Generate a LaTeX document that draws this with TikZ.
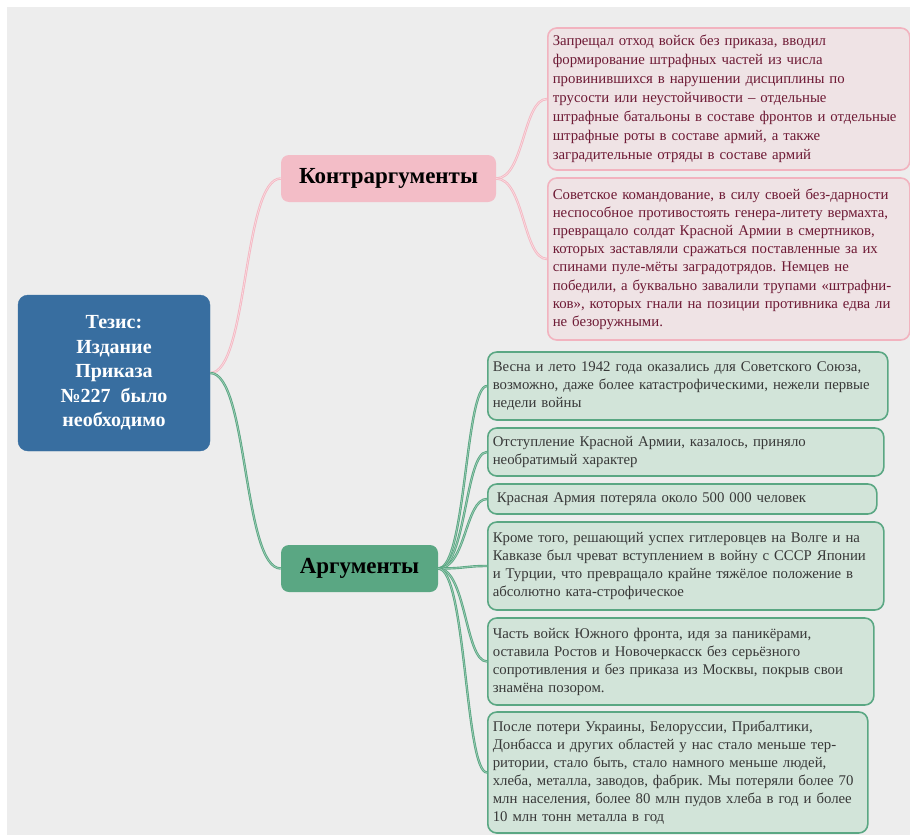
\documentclass[tikz,border=0pt]{standalone}
\usepackage{fontspec}
\setmainfont{Liberation Serif}
\frenchspacing
\definecolor{bgc}{HTML}{EDEDED}
\definecolor{thesisblue}{HTML}{386EA0}
\definecolor{pinkhead}{HTML}{F3BDC7}
\definecolor{pinkline}{HTML}{F4B8C3}
\definecolor{pinkfill}{HTML}{EFE3E5}
\definecolor{pinkborder}{HTML}{F2B3BF}
\definecolor{pinktext}{HTML}{6E1A35}
\definecolor{greenhead}{HTML}{5AA783}
\definecolor{greenfill}{HTML}{D2E4D9}
\definecolor{greentext}{HTML}{383838}
\begin{document}
\begin{tikzpicture}[x=1pt,y=-1pt,
  thesisbox/.style={fill=thesisblue, draw=thesisblue, rounded corners=10pt, text=white,
    font=\fontsize{20}{24.5}\selectfont\bfseries, align=center, inner sep=0pt},
  headbox/.style={rounded corners=8pt, font=\fontsize{23}{26}\selectfont\bfseries,
    text=black, inner sep=0pt},
  pinkbox/.style={fill=pinkfill, draw=pinkborder, line width=1.6pt, rounded corners=9pt,
    text=pinktext, font=\fontsize{14.8}{19}\selectfont\frenchspacing, align=left, inner xsep=5pt, inner ysep=0pt,
    anchor=west},
  greenbox/.style={fill=greenfill, draw=greenhead, line width=1.6pt, rounded corners=9pt,
    text=greentext, font=\fontsize{14.8}{18}\selectfont\frenchspacing, align=left, inner xsep=5pt, inner ysep=0pt,
    anchor=west},
  pinkconn/.style={draw=pinkline, line width=0.9pt, double=pinkline!45!white, double distance=0.6pt},
  greenconn/.style={draw=greenhead, line width=0.9pt, double=greenhead!55!white, double distance=0.6pt}
]
\useasboundingbox (0,0) rectangle (910,835);
\fill[white] (0,0) rectangle (910,835);
\fill[bgc] (7,7) rectangle (910,835);

% main nodes
\node[thesisbox, minimum width=192, minimum height=156] (T) at (114,373)
  {Тезис:\\Издание\\Приказа\\№227~~было\\необходимо};
\node[headbox, fill=pinkhead, minimum width=215, minimum height=47] (K) at (388.5,178.5) {Контраргументы};
\node[headbox, fill=greenhead, minimum width=157, minimum height=47] (A) at (359.5,568.5) {Аргументы};

% pink boxes
\node[pinkbox, text width=352, minimum height=142] (P1) at (547,99)
  {Запрещал отход войск без приказа, вводил\\
   формирование штрафных частей из числа\\
   провинившихся в нарушении дисциплины по\\
   трусости или неустойчивости – отдельные\\
   штрафные батальоны в составе фронтов и отдельные\\
   штрафные роты в составе армий, а также\\
   заградительные отряды в составе армий};
\node[pinkbox, text width=352, minimum height=162, font=\fontsize{14.8}{18.2}\selectfont] (P2) at (547,259)
  {Советское командование, в силу своей без-дарности\\
   неспособное противостоять генера-литету вермахта,\\
   превращало солдат Красной Армии в смертников,\\
   которых заставляли сражаться поставленные за их\\
   спинами пуле-мёты заградотрядов. Немцев не\\
   победили, а буквально завалили трупами «штрафни-\\
   ков», которых гнали на позиции противника едва ли\\
   не безоружными.};

% green boxes
\node[greenbox, text width=390, minimum height=68] (G1) at (487,386)
  {Весна и лето 1942 года оказались для Советского Союза,\\
   возможно, даже более катастрофическими, нежели первые\\
   недели войны};
\node[greenbox, text width=386, minimum height=48] (G2) at (487,452)
  {Отступление Красной Армии, казалось, приняло\\
   необратимый характер};
\node[greenbox, text width=379, minimum height=30] (G3) at (487,499)
  {\hspace{4pt}Красная Армия потеряла около 500 000 человек};
\node[greenbox, text width=386, minimum height=88] (G4) at (487,566)
  {Кроме того, решающий успех гитлеровцев на Волге и на\\
   Кавказе был чреват вступлением в войну с СССР Японии\\
   и Турции, что превращало крайне тяжёлое положение в\\
   абсолютно ката-строфическое};
\node[greenbox, text width=376, minimum height=87] (G5) at (487,661.5)
  {Часть войск Южного фронта, идя за паникёрами,\\
   оставила Ростов и Новочеркасск без серьёзного\\
   сопротивления и без приказа из Москвы, покрыв свои\\
   знамёна позором.};
\node[greenbox, text width=370, minimum height=121] (G6) at (487,772.5)
  {После потери Украины, Белоруссии, Прибалтики,\\
   Донбасса и других областей у нас стало меньше тер-\\
   ритории, стало быть, стало намного меньше людей,\\
   хлеба, металла, заводов, фабрик. Мы потеряли более 70\\
   млн населения, более 80 млн пудов хлеба в год и более\\
   10 млн тонн металла в год};

% connectors
\draw[pinkconn] (T.east) .. controls +(38,0) and +(-38,0) .. (K.west);
\draw[greenconn] (T.east) .. controls +(38,0) and +(-38,0) .. (A.west);
\draw[pinkconn] (K.east) .. controls +(28,0) and +(-24,0) .. (P1.west);
\draw[pinkconn] (K.east) .. controls +(28,0) and +(-24,0) .. (P2.west);
\foreach \g in {G1,G2,G3,G4,G5,G6}
  \draw[greenconn] (A.east) .. controls +(28,0) and +(-22,0) .. (\g.west);
\end{tikzpicture}
\end{document}
